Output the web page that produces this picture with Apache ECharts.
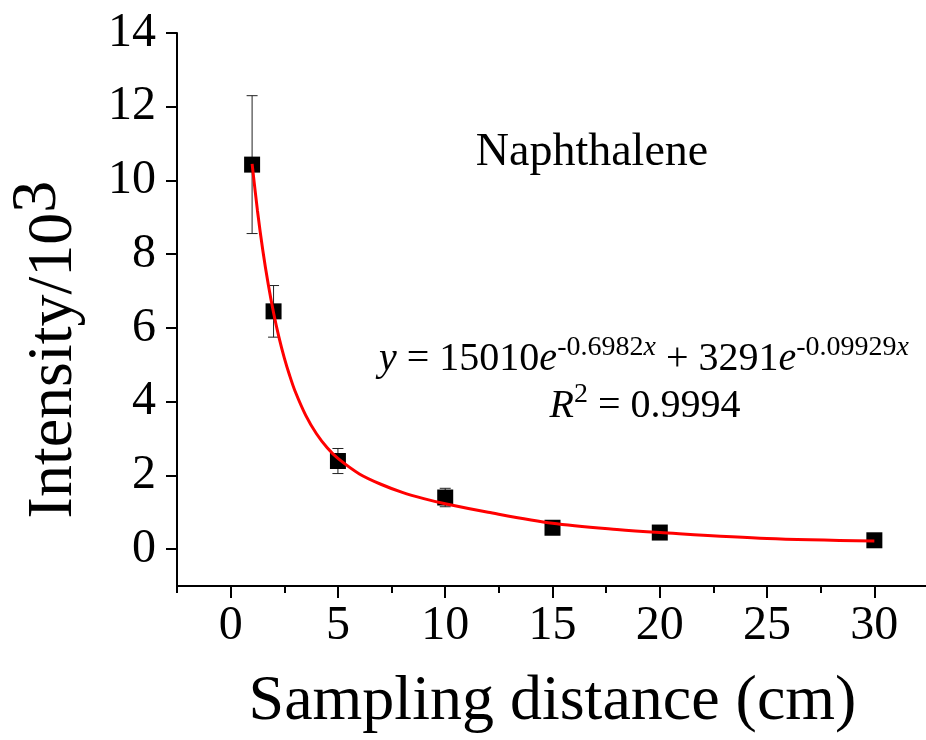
<!DOCTYPE html>
<html><head><meta charset="utf-8">
<script src="https://cdn.jsdelivr.net/npm/echarts@6/dist/echarts.min.js"></script>
<style>html,body{margin:0;padding:0;background:#fff}#c{width:926px;height:740px}</style>
</head><body><div id="c"></div>
<script>
// ---- data ----
const xValues   = [1, 2, 5, 10, 15, 20, 30];
const intensity = [10.43, 6.45, 2.39, 1.40, 0.58, 0.45, 0.24];
const errors    = [1.87, 0.70, 0.34, 0.25, 0.10, 0.10, 0.10];
const fitX = [1, 1.25, 1.5, 1.75, 2, 2.25, 2.5, 2.75, 3, 3.5, 4, 4.5, 5, 6, 7, 8, 9, 10, 12, 15, 18, 20, 25, 30];
const fitY = [10.45, 9.18, 8.10, 7.19, 6.41, 5.75, 5.19, 4.71, 4.29, 3.63, 3.13, 2.75, 2.46, 2.04, 1.76, 1.54, 1.37, 1.23, 1.00, 0.70, 0.53, 0.45, 0.29, 0.22];
const xTitle = 'Sampling distance (cm)';
const yTitleMain = 'Intensity/10';
const yTitleSup = '3';
const compoundName = 'Naphthalene';
const eqLine1 = '{i|y}{m| = 15010}{i|e}{s|-0.6982}{si|x}{m| + 3291}{i|e}{s|-0.09929}{si|x}';
const eqLine2 = '{i|R}{s|2}{m| = 0.9994}';

// ---- layout ----
const FONT = 'Liberation Serif';
const G_LEFT = 177, G_TOP = 33, G_W = 751, G_H = 553;
const X_MIN = -2.5, X_MAX = 32.5, Y_MIN = -1, Y_MAX = 14;
const pxX = G_W / (X_MAX - X_MIN), pxY = G_H / (Y_MAX - Y_MIN);
const G2_LEFT = G_LEFT + (0 - X_MIN) * pxX;
const G2_W = 30 * pxX;
const G2_H = 14 * pxY;

const chart = echarts.init(document.getElementById('c'), null, {renderer: 'canvas'});

const pts = xValues.map((x, i) => [x, intensity[i]]);
const errData = xValues.map((x, i) => [x, intensity[i], errors[i]]);
const fitData = fitX.map((x, i) => [x, fitY[i]]);

const tickLabel = {fontFamily: FONT, fontSize: 48, color: '#000'};

chart.setOption({
  animation: false,
  backgroundColor: '#fff',
  grid: [
    {left: G_LEFT, top: G_TOP, width: G_W, height: G_H, outerBoundsMode: 'none', containLabel: false},
    {left: G2_LEFT, top: G_TOP, width: G2_W, height: G2_H, outerBoundsMode: 'none', containLabel: false}
  ],
  xAxis: [
    {
      gridIndex: 0, type: 'value', min: X_MIN, max: X_MAX, interval: 2.5,
      axisLine: {show: true, onZero: false, lineStyle: {color: '#000', width: 2}},
      axisTick: {show: true, inside: false, length: 7, lineStyle: {color: '#000', width: 2}},
      axisLabel: {show: false}, splitLine: {show: false},
      name: xTitle, nameLocation: 'middle', nameGap: 84,
      nameTextStyle: {fontFamily: FONT, fontSize: 64, color: '#000', lineHeight: 64}
    },
    {
      gridIndex: 1, type: 'value', min: 0, max: 30, interval: 5, offset: G_H - G2_H,
      axisLine: {show: false, onZero: false},
      axisTick: {show: true, inside: false, length: 12, lineStyle: {color: '#000', width: 2}},
      axisLabel: Object.assign({margin: 16}, tickLabel), splitLine: {show: false}
    }
  ],
  yAxis: [
    {
      gridIndex: 0, type: 'value', min: Y_MIN, max: Y_MAX, interval: 1,
      axisLine: {show: true, onZero: false, lineStyle: {color: '#000', width: 2}},
      axisTick: {show: false}, axisLabel: {show: false}, splitLine: {show: false},
      name: '{a|' + yTitleMain + '}{b|' + yTitleSup + '}', nameLocation: 'middle', nameRotate: 90, nameGap: 91,
      nameTextStyle: {
        fontFamily: FONT, fontSize: 64, color: '#000', padding: [0, 80, 0, 0],
        rich: {
          a: {fontFamily: FONT, fontSize: 64, color: '#000', lineHeight: 80, verticalAlign: 'bottom'},
          b: {fontFamily: FONT, fontSize: 64, color: '#000', lineHeight: 54, verticalAlign: 'top'}
        }
      }
    },
    {
      gridIndex: 1, type: 'value', min: 0, max: 14, interval: 2, offset: G2_LEFT - G_LEFT,
      axisLine: {show: false, onZero: false},
      axisTick: {show: true, inside: false, length: 11, lineStyle: {color: '#000', width: 2}},
      axisLabel: Object.assign({margin: 21}, tickLabel), splitLine: {show: false}
    }
  ],
  series: [
    {
      type: 'custom', xAxisIndex: 0, yAxisIndex: 0, z: 1, data: errData,
      renderItem: function (params, api) {
        const x = api.value(0), y = api.value(1), e = api.value(2);
        const top = api.coord([x, y + e]);
        const bot = api.coord([x, y - e]);
        const hw = 5.5;
        const st = {stroke: '#222', lineWidth: 1};
        return {
          type: 'group',
          children: [
            {type: 'line', shape: {x1: top[0], y1: top[1], x2: bot[0], y2: bot[1]}, style: st},
            {type: 'line', shape: {x1: top[0] - hw, y1: top[1], x2: top[0] + hw, y2: top[1]}, style: st},
            {type: 'line', shape: {x1: bot[0] - hw, y1: bot[1], x2: bot[0] + hw, y2: bot[1]}, style: st}
          ]
        };
      }
    },
    {
      type: 'scatter', xAxisIndex: 0, yAxisIndex: 0, z: 2, data: pts,
      symbol: 'rect', symbolSize: 16, itemStyle: {color: '#000', opacity: 1}
    },
    {
      type: 'line', xAxisIndex: 0, yAxisIndex: 0, z: 3, data: fitData,
      showSymbol: false, symbol: 'none', smooth: 0.3,
      lineStyle: {color: '#ff0000', width: 3}
    }
  ],
  graphic: [
    {type: 'text', x: 592, y: 153, z: 10,
     style: {text: compoundName, fontFamily: FONT, fontSize: 46, fill: '#000', align: 'center', verticalAlign: 'middle'}},
    {type: 'text', x: 644, y: 359, z: 10,
     style: {text: eqLine1, fontFamily: FONT, fontSize: 40, fill: '#000', align: 'center', verticalAlign: 'middle',
       rich: {
         m: {fontFamily: FONT, fontSize: 40, lineHeight: 50, verticalAlign: 'middle', fill: '#000'},
         i: {fontFamily: FONT, fontSize: 40, fontStyle: 'italic', lineHeight: 50, verticalAlign: 'middle', fill: '#000'},
         s: {fontFamily: FONT, fontSize: 28, lineHeight: 28, verticalAlign: 'top', fill: '#000'},
         si: {fontFamily: FONT, fontSize: 28, fontStyle: 'italic', lineHeight: 28, verticalAlign: 'top', fill: '#000'}
       }}},
    {type: 'text', x: 645, y: 406, z: 10,
     style: {text: eqLine2, fontFamily: FONT, fontSize: 40, fill: '#000', align: 'center', verticalAlign: 'middle',
       rich: {
         m: {fontFamily: FONT, fontSize: 40, lineHeight: 50, verticalAlign: 'middle', fill: '#000'},
         i: {fontFamily: FONT, fontSize: 40, fontStyle: 'italic', lineHeight: 50, verticalAlign: 'middle', fill: '#000'},
         s: {fontFamily: FONT, fontSize: 28, lineHeight: 28, verticalAlign: 'top', fill: '#000'}
       }}}
  ]
});
</script>
</body></html>
